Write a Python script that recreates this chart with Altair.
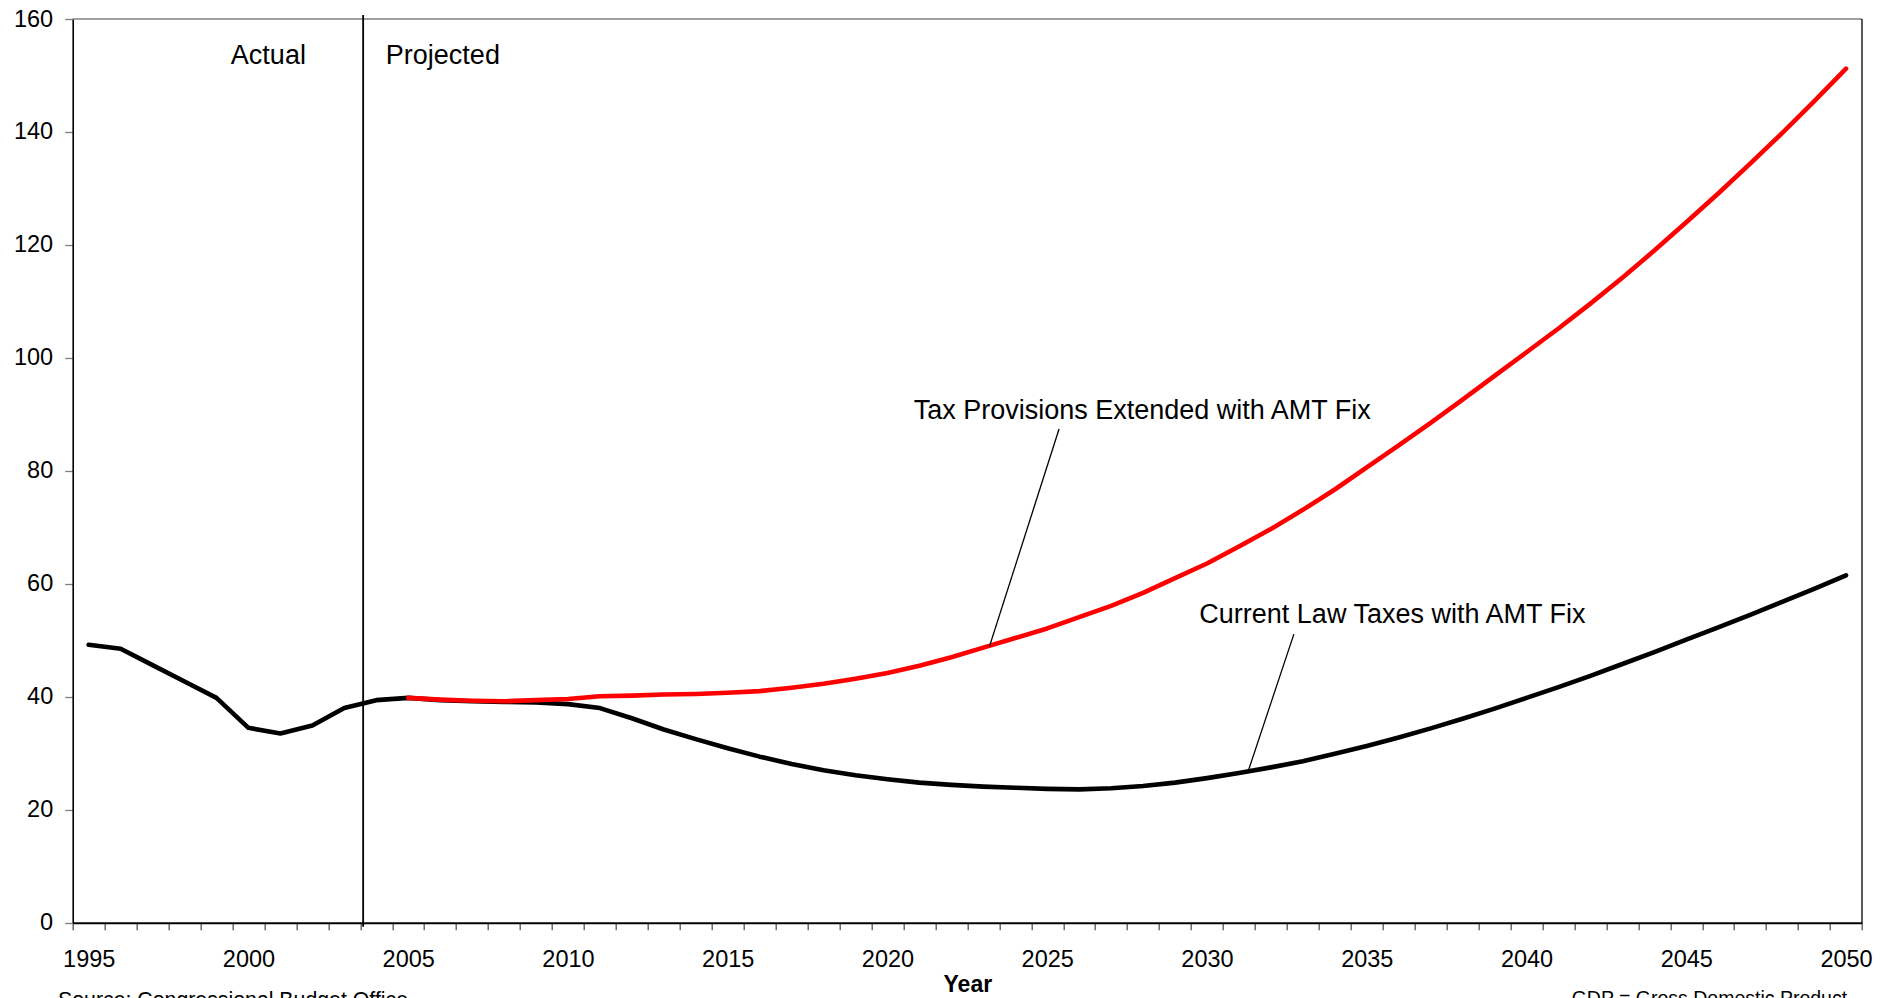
import altair as alt
import pandas as pd

# ---------------- data ----------------
years = list(range(1995, 2051))

current_law = [
    49.2, 48.5, 45.6, 42.7, 39.8, 34.5, 33.5, 34.9, 38.0, 39.4,   # 1995-2004
    39.8, 39.4, 39.2, 39.1, 39.0, 38.7, 38.0, 36.2, 34.2, 32.5,   # 2005-2014
    30.9, 29.4, 28.1, 27.0, 26.1, 25.4, 24.8, 24.4, 24.1, 23.9,   # 2015-2024
    23.7, 23.6, 23.8, 24.2, 24.8, 25.6, 26.5, 27.5, 28.6, 29.9,   # 2025-2034
    31.3, 32.8, 34.4, 36.1, 37.9, 39.8, 41.7, 43.7, 45.8, 47.9,   # 2035-2044
    50.1, 52.3, 54.5, 56.8, 59.1, 61.5,                           # 2045-2050
]

ext_years = list(range(2005, 2051))
extended = [
    39.8, 39.5, 39.3, 39.2, 39.4, 39.6, 40.1, 40.2, 40.4, 40.5,   # 2005-2014
    40.7, 41.0, 41.6, 42.3, 43.2, 44.2, 45.5, 47.0, 48.7, 50.4,   # 2015-2024
    52.1, 54.1, 56.1, 58.4, 61.0, 63.6, 66.6, 69.7, 73.1, 76.7,   # 2025-2034
    80.6, 84.5, 88.5, 92.6, 96.8, 101.0, 105.2, 109.6, 114.2, 119.0,  # 2035-2044
    124.0, 129.1, 134.4, 139.8, 145.4, 151.2,                     # 2045-2050
]

y_ticks = [0, 20, 40, 60, 80, 100, 120, 140, 160]
x_tick_bounds = [1994.5 + i for i in range(57)]

labels_text = ["Actual", "Projected", "Tax Provisions Extended with AMT Fix",
               "Current Law Taxes with AMT Fix"]
labels_x = [1999.45, 2004.3, 2020.82, 2029.76]
labels_y = [152.0, 152.0, 89.2, 53.1]

pointer_x = [2025.37, 2032.72]
pointer_y = [87.4, 51.1]
pointer_x2 = [2023.19, 2031.3]
pointer_y2 = [48.87, 27.0]

divider_year = [2003.59]

FONT = "Liberation Sans"

# ---------------- frames ----------------
df_black = pd.DataFrame({"year": years, "value": current_law})
df_red = pd.DataFrame({"year": ext_years, "value": extended})
df_labels = pd.DataFrame({"year": labels_x, "value": labels_y, "text": labels_text})
df_pointer = pd.DataFrame({"x": pointer_x, "y": pointer_y, "x2": pointer_x2, "y2": pointer_y2})
df_div = pd.DataFrame({"x": divider_year, "y": [-0.7], "y2": [160.7]})
df_top = pd.DataFrame({"x": [1994.5], "x2": [2050.5], "y": [160]})
df_right = pd.DataFrame({"x": [2050.5], "y": [0], "y2": [160]})

x_scale = alt.Scale(domain=[1994.5, 2050.5], nice=False, zero=False)
y_scale = alt.Scale(domain=[0, 160], nice=False)

x_axis = alt.Axis(
    values=x_tick_bounds,
    labelExpr="(datum.value + 0.5) % 5 == 0 ? format(datum.value + 0.5, 'd') : ''",
    labelOffset=16,
    labelOverlap=False,
    labelBound=False,
    labelFlush=False,
    grid=False,
    title="Year",
    titleFont=FONT,
    titleFontSize=23,
    titleFontWeight="bold",
    titleColor="black",
    titlePadding=2,
    labelFont=FONT,
    labelFontSize=23.5,
    labelColor="black",
    labelPadding=18,
    tickSize=7,
    tickColor="#555555",
    tickWidth=1.3,
    domainColor="black",
    domainWidth=2,
)
y_axis = alt.Axis(
    values=y_ticks,
    grid=False,
    title=None,
    labelFont=FONT,
    labelFontSize=23.5,
    labelColor="black",
    labelPadding=12,
    tickSize=8,
    tickColor="#808080",
    tickWidth=1.3,
    domainColor="black",
    domainWidth=1.6,
)


def X(field="year"):
    return alt.X(f"{field}:Q", scale=x_scale, axis=x_axis)


def Y(field="value"):
    return alt.Y(f"{field}:Q", scale=y_scale, axis=y_axis)


black_line = alt.Chart(df_black).mark_line(
    color="black", strokeWidth=4.6, strokeCap="round", strokeJoin="round"
).encode(x=X(), y=Y())

red_line = alt.Chart(df_red).mark_line(
    color="#ff0000", strokeWidth=4.6, strokeCap="round", strokeJoin="round"
).encode(x=X(), y=Y())

top_border = alt.Chart(df_top).mark_rule(color="#808080", strokeWidth=1.6).encode(
    x=X("x"), x2="x2", y=Y("y")
)
right_border = alt.Chart(df_right).mark_rule(color="black", strokeWidth=1.3).encode(
    x=X("x"), y=Y("y"), y2="y2"
)
divider = alt.Chart(df_div).mark_rule(color="black", strokeWidth=1.8).encode(
    x=X("x"), y=Y("y"), y2="y2"
)
pointers = alt.Chart(df_pointer).mark_rule(color="black", strokeWidth=1.3).encode(
    x=X("x"), y=Y("y"), x2="x2", y2="y2"
)
labels = alt.Chart(df_labels).mark_text(
    font=FONT, fontSize=27, color="black", align="left", baseline="alphabetic"
).encode(x=X("year"), y=Y("value"), text="text:N")

source = alt.Chart(pd.DataFrame({"t": ["Source: Congressional Budget Office"]})).mark_text(
    font=FONT, fontSize=21.3, color="black", align="left", baseline="top"
).encode(x=alt.value(-14.7), y=alt.value(971), text="t:N")

gdp = alt.Chart(pd.DataFrame({"t": ["GDP = Gross Domestic Product"]})).mark_text(
    font=FONT, fontSize=19.5, color="black", align="left", baseline="top"
).encode(x=alt.value(1499), y=alt.value(971), text="t:N")

chart = alt.layer(
    top_border, right_border, divider, black_line, red_line, pointers, labels, source, gdp
).properties(
    width=1789.3,
    height=903.7,
    autosize=alt.AutoSizeParams(type="none"),
    padding={"left": 72.7, "top": 19, "right": 36, "bottom": 75.3},
    background="white",
).configure_view(stroke="transparent", strokeWidth=0)

chart.save("out.html", embed_options={"renderer": "svg", "actions": False})
